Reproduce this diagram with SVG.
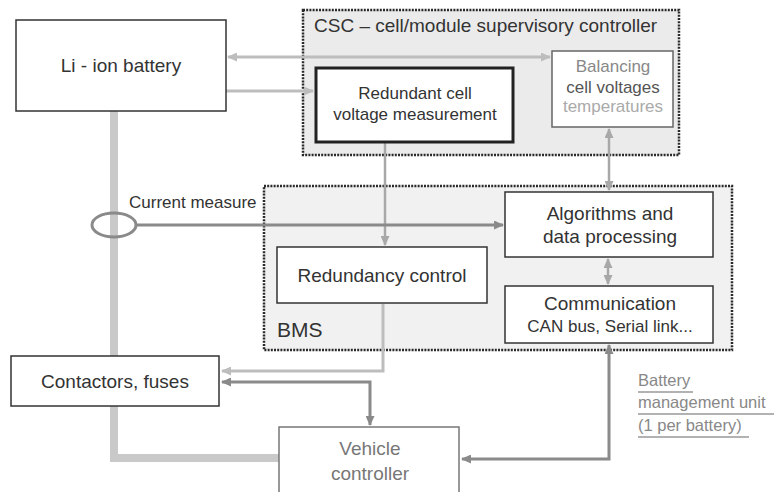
<svg xmlns="http://www.w3.org/2000/svg" width="774" height="492" viewBox="0 0 774 492">
<style>
text{font-family:"Liberation Sans",Arial,sans-serif;fill:#333}
.box{fill:#fff;stroke:#333;stroke-width:1.5}
.grp{stroke:#2a2a2a;stroke-width:2.5;stroke-dasharray:2 1.2}
.c{fill:none}
.lt{stroke:#bdbdbd;stroke-width:3}
.md{stroke:#a8a8a8;stroke-width:2.5}
.dk{stroke:#8a8a8a;stroke-width:3}
.bus{stroke:#c9c9c9;stroke-width:8;fill:none}
.ul{stroke:#999;stroke-width:1.5}
</style>
<defs>
<marker id="aL" markerUnits="userSpaceOnUse" markerWidth="10" markerHeight="9" refX="9" refY="4.5" orient="auto-start-reverse"><path d="M0,0 L10,4.5 L0,9 z" fill="#bdbdbd"/></marker>
<marker id="aM" markerUnits="userSpaceOnUse" markerWidth="10" markerHeight="9" refX="9" refY="4.5" orient="auto-start-reverse"><path d="M0,0 L10,4.5 L0,9 z" fill="#a8a8a8"/></marker>
<marker id="aD" markerUnits="userSpaceOnUse" markerWidth="10" markerHeight="9" refX="9" refY="4.5" orient="auto-start-reverse"><path d="M0,0 L10,4.5 L0,9 z" fill="#8a8a8a"/></marker>
</defs>
<rect width="774" height="492" fill="#fff"/>

<g id="csc">
<rect class="grp" x="303" y="10" width="376" height="145" fill="#ebebeb"/>
<text x="314" y="32" font-size="19">CSC – cell/module supervisory controller</text>
</g>
<g id="bms">
<rect class="grp" x="264" y="186" width="468" height="164" fill="#f1f1f1"/>
<text x="277" y="337" font-size="21">BMS</text>
</g>

<g id="connectors">
<path class="bus" d="M114,111 V356 M114,406 V458 H279"/>
<line class="c lt" x1="228" y1="57" x2="550" y2="57" marker-start="url(#aL)" marker-end="url(#aL)"/>
<line class="c lt" x1="226" y1="91" x2="313" y2="91" marker-end="url(#aL)"/>
<line class="c md" x1="385" y1="143" x2="385" y2="245" marker-end="url(#aM)"/>
<line class="c md" x1="609" y1="129" x2="609" y2="190" marker-start="url(#aM)" marker-end="url(#aM)"/>
<line class="c md" x1="608" y1="259" x2="608" y2="284" marker-start="url(#aM)" marker-end="url(#aM)"/>
<ellipse cx="114" cy="225" rx="22" ry="12" fill="none" stroke="#8a8a8a" stroke-width="3"/>
<line class="c dk" x1="136" y1="225" x2="503" y2="225" stroke-width="2.5" marker-end="url(#aD)"/>
<path class="c lt" d="M383,304 V371 H222" marker-end="url(#aL)"/>
<path class="c dk" d="M222,382 H370 V425" marker-start="url(#aD)" marker-end="url(#aD)"/>
<path class="c dk" d="M609,345 V459 H462" marker-start="url(#aD)" marker-end="url(#aD)"/>
</g>

<g id="li-ion-battery">
<rect class="box" x="16" y="20" width="210" height="91"/>
<text x="121" y="72" font-size="19" text-anchor="middle">Li - ion battery</text>
</g>
<g id="redundant-cell">
<rect x="316" y="68" width="197" height="74" fill="#fff" stroke="#222" stroke-width="3"/>
<text x="415" y="99" font-size="17" text-anchor="middle">Redundant cell</text>
<text x="415" y="120" font-size="17" text-anchor="middle">voltage measurement</text>
</g>
<g id="balancing">
<rect x="552" y="51" width="121" height="76" fill="#fff" stroke="#666" stroke-width="1.5"/>
<text x="613" y="72" font-size="17" text-anchor="middle" style="fill:#888">Balancing</text>
<text x="613" y="93" font-size="17" text-anchor="middle" style="fill:#555">cell voltages</text>
<text x="613" y="112" font-size="17" text-anchor="middle" style="fill:#aaa">temperatures</text>
</g>
<g id="algorithms">
<rect class="box" x="505" y="192" width="208" height="65"/>
<text x="610" y="220" font-size="19" text-anchor="middle">Algorithms and</text>
<text x="610" y="243" font-size="19" text-anchor="middle">data processing</text>
</g>
<g id="communication">
<rect class="box" x="505" y="286" width="208" height="57"/>
<text x="610" y="310" font-size="19" text-anchor="middle">Communication</text>
<text x="610" y="332" font-size="17" text-anchor="middle">CAN bus, Serial link...</text>
</g>
<g id="redundancy-control">
<rect class="box" x="277" y="247" width="210" height="56"/>
<text x="382" y="282" font-size="19" text-anchor="middle">Redundancy control</text>
</g>
<g id="current-measure">
<text x="129" y="208" font-size="17">Current measure</text>
</g>
<g id="contactors">
<rect class="box" x="11" y="356" width="208" height="50"/>
<text x="115" y="388" font-size="19" text-anchor="middle">Contactors, fuses</text>
</g>
<g id="vehicle-controller">
<rect x="279" y="427" width="180" height="75" fill="#fff" stroke="#777" stroke-width="1.5"/>
<text x="370" y="455" font-size="19" text-anchor="middle" style="fill:#777">Vehicle</text>
<text x="370" y="480" font-size="19" text-anchor="middle" style="fill:#777">controller</text>
</g>
<g id="bmu-label">
<text x="638" y="386" font-size="16.5" style="fill:#888">Battery</text>
<line class="ul" x1="638" y1="392" x2="693" y2="392"/>
<text x="638" y="408" font-size="16.5" style="fill:#888">management unit</text>
<line class="ul" x1="638" y1="414" x2="774" y2="414"/>
<text x="638" y="431" font-size="16.5" style="fill:#888">(1 per battery)</text>
<line class="ul" x1="638" y1="437" x2="749" y2="437"/>
</g>
</svg>
